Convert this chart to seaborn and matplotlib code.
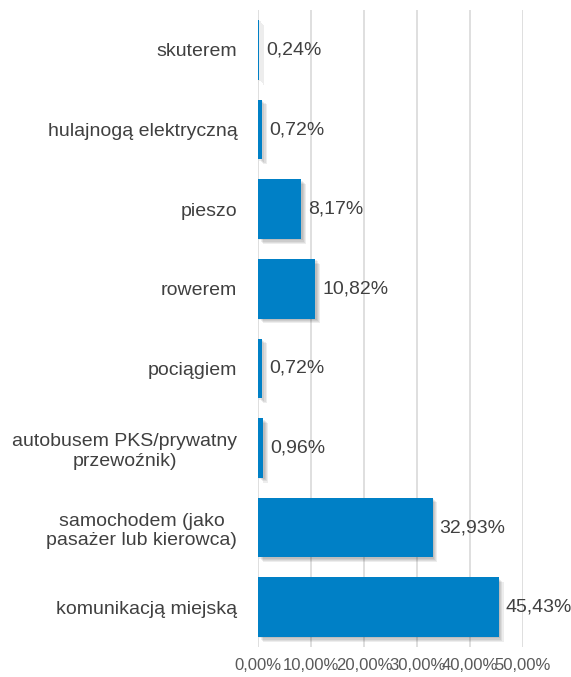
import matplotlib
matplotlib.use("Agg")
import matplotlib.pyplot as plt
import matplotlib.patheffects as pe
import seaborn as sns
import pandas as pd

categories = [
    "skuterem",
    "hulajnogą elektryczną",
    "pieszo",
    "rowerem",
    "pociągiem",
    "autobusem PKS/prywatny\nprzewoźnik)",
    "samochodem (jako\npasażer lub kierowca)",
    "komunikacją miejską",
]
values = [0.24, 0.72, 8.17, 10.82, 0.72, 0.96, 32.93, 45.43]
x_ticks = [0, 10, 20, 30, 40, 50]

sns.set_theme(style="white")
plt.rcParams["font.family"] = ["Liberation Sans", "DejaVu Sans"]

df = pd.DataFrame({"sposob": categories, "udzial": values})

fig = plt.figure(figsize=(5.71, 6.77), dpi=100)
ax = fig.add_axes([0.452, 0.0443, 0.464, 0.9407])

sns.barplot(data=df, x="udzial", y="sposob", orient="h", color="#0080C6",
            saturation=1, width=0.75, ax=ax)

# soft drop shadow built from a few faint offset layers
shadow = [pe.SimplePatchShadow(offset=(o, -o), shadow_rgbFace="#000000", alpha=0.07)
          for o in (1.0, 1.8, 2.6, 3.4)] + [pe.Normal()]
for bar in ax.patches:
    bar.set_path_effects(shadow)
    bar.set_edgecolor("none")

for i, v in enumerate(values):
    ax.annotate(f"{v:.2f}".replace(".", ",") + "%", xy=(v, i), xytext=(5, 0),
                textcoords="offset points", va="center", ha="left",
                fontsize=14, color="#404040")

ax.set_xlim(0, 50)
ax.set_xticks(x_ticks)
ax.set_xticklabels([f"{t:.2f}".replace(".", ",") + "%" for t in x_ticks],
                   fontsize=12, color="#595959")
ax.tick_params(axis="x", length=0, pad=8)
ax.tick_params(axis="y", length=0, pad=15, labelsize=14, labelcolor="#404040")
for lbl in ax.get_yticklabels():
    lbl.set_multialignment("center")
ax.set_xlabel("")
ax.set_ylabel("")
ax.grid(axis="x", color="#D9D9D9", linewidth=1.2)
ax.set_axisbelow(True)
for s in ax.spines.values():
    s.set_visible(False)

fig.savefig("out.png", dpi=100)
